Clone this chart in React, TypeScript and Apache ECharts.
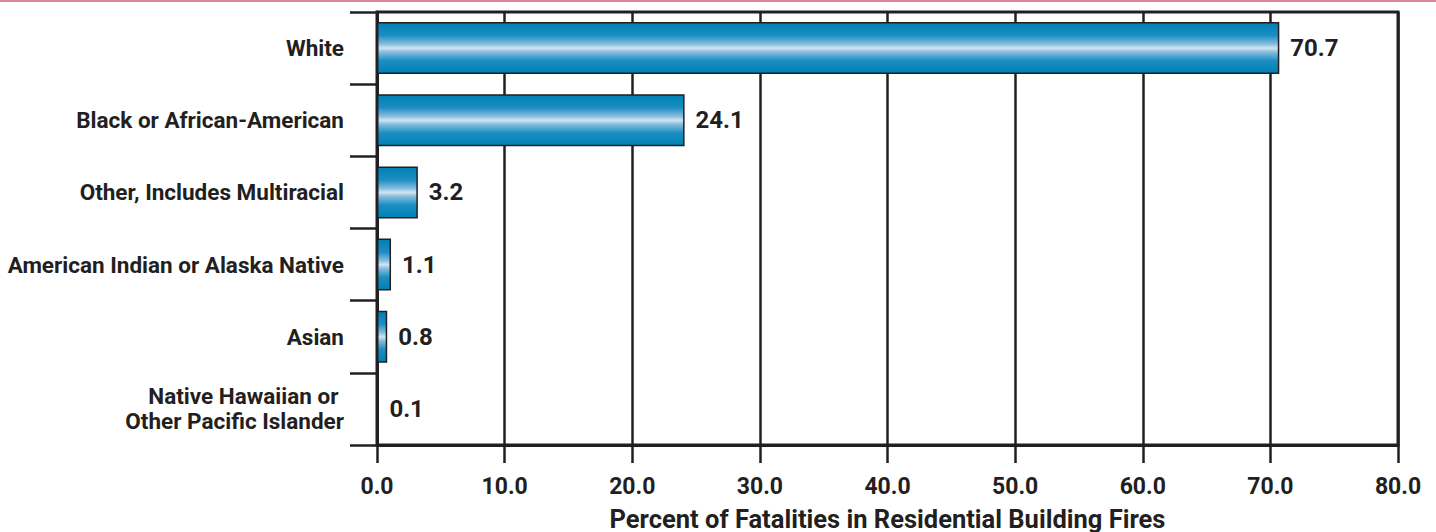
import React, { useEffect, useRef } from "react";
import * as echarts from "echarts";

// Share of residential building fire deaths by race
const categories = [
  "White",
  "Black or African-American",
  "Other, Includes Multiracial",
  "American Indian or Alaska Native",
  "Asian",
  "Native Hawaiian or \nOther Pacific Islander",
];
const percents = [70.7, 24.1, 3.2, 1.1, 0.8, 0.1];
const xTicks = [0, 10, 20, 30, 40, 50, 60, 70, 80];
const axisTitle = "Percent of Fatalities in Residential Building Fires";

const INK = "#231f20";
const FONT = 'Roboto, "Liberation Sans", Arial, sans-serif';

export default function App() {
  const ref = useRef<HTMLDivElement>(null);

  useEffect(() => {
    if (!ref.current) return;
    const chart = echarts.init(ref.current, null, { renderer: "svg" });

    const barFill = new echarts.graphic.LinearGradient(0, 0, 0, 1, [
      { offset: 0, color: "#0080b5" },
      { offset: 0.25, color: "#1b8ec2" },
      { offset: 0.42, color: "#86bddd" },
      { offset: 0.5, color: "#d0e4f2" },
      { offset: 0.58, color: "#86bddd" },
      { offset: 0.75, color: "#1b8ec2" },
      { offset: 1, color: "#0080b5" },
    ]);

    chart.setOption({
      animation: false,
      backgroundColor: "#ffffff",
      graphic: [
        {
          type: "rect",
          left: 0,
          top: 0,
          shape: { width: 1436, height: 2 },
          style: { fill: "#de8598" },
        },
      ],
      grid: {
        left: 377,
        right: 38,
        top: 12,
        bottom: 87,
        containLabel: false,
        outerBoundsMode: "none",
        show: true,
        borderColor: INK,
        borderWidth: 3,
        backgroundColor: "transparent",
      },
      xAxis: {
        type: "value",
        min: xTicks[0],
        max: xTicks[xTicks.length - 1],
        interval: 10,
        name: axisTitle,
        nameLocation: "middle",
        nameGap: 61,
        nameTextStyle: {
          fontFamily: FONT,
          fontWeight: "bold",
          fontSize: 25.5,
          lineHeight: 25,
          color: INK,
        },
        axisLine: { show: true, lineStyle: { color: INK, width: 3 } },
        axisTick: { show: true, length: 18, lineStyle: { color: INK, width: 2.5 } },
        splitLine: { show: true, lineStyle: { color: INK, width: 2.5 } },
        axisLabel: {
          margin: 30,
          fontFamily: FONT,
          fontWeight: "bold",
          fontSize: 23,
          color: INK,
          formatter: (v: number) => v.toFixed(1),
        },
      },
      yAxis: {
        type: "category",
        data: categories,
        inverse: true,
        axisLine: { show: true, lineStyle: { color: INK, width: 3 } },
        axisTick: { show: true, length: 27, lineStyle: { color: INK, width: 2.5 } },
        splitLine: { show: false },
        axisLabel: {
          margin: 33,
          fontFamily: FONT,
          fontWeight: "bold",
          fontSize: 22.5,
          lineHeight: 25,
          color: INK,
          align: "right",
        },
      },
      series: [
        {
          type: "bar",
          data: percents,
          barWidth: 52,
          itemStyle: {
            color: barFill,
            borderColor: INK,
            borderWidth: 1.5,
          },
          label: {
            show: true,
            position: "right",
            distance: 11,
            fontFamily: FONT,
            fontWeight: "bold",
            fontSize: 24,
            color: INK,
            formatter: (p: any) => Number(p.value).toFixed(1),
          },
        },
      ],
    });

    return () => chart.dispose();
  }, []);

  return (
    <div
      ref={ref}
      style={{ position: "fixed", left: 0, top: 0, width: 1436, height: 532 }}
    />
  );
}
